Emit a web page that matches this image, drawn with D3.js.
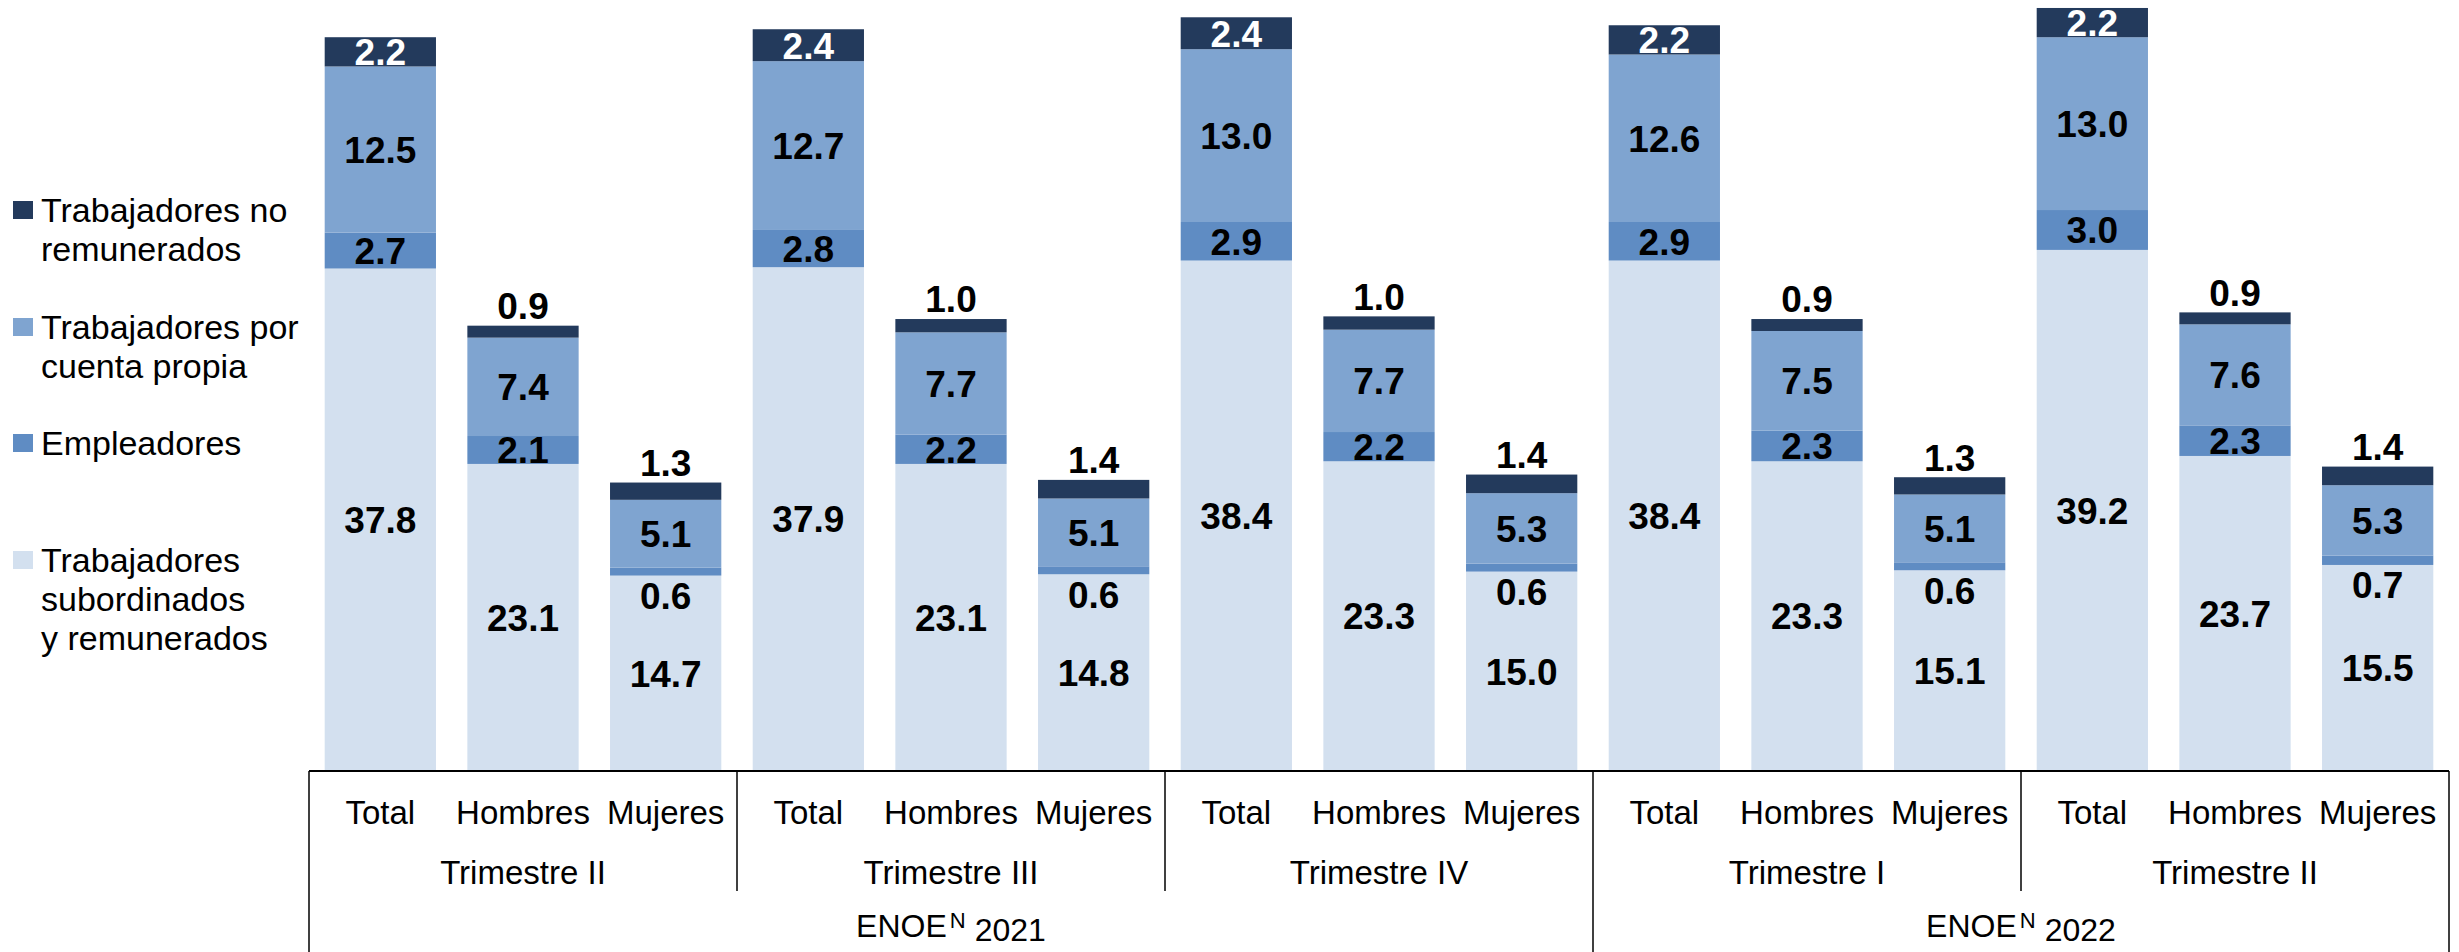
<html>
<head>
<meta charset="utf-8">
<script src="https://d3js.org/d3.v7.min.js"></script>
<style>
  body { margin: 0; background: #fff; }
  svg text { font-family: "Liberation Sans", Arial, sans-serif; }
</style>
</head>
<body>
<div id="chart"></div>
<script>
// categories
var trimestres = ["Trimestre II", "Trimestre III", "Trimestre IV", "Trimestre I", "Trimestre II"];
var anios = ["2021", "2022"];
var trimestresPorAnio = [3, 2];
var sexos = ["Total", "Hombres", "Mujeres"];

// series values (Total, Hombres, Mujeres for each trimestre)
var subordinados = [37.8, 23.1, 14.7, 37.9, 23.1, 14.8, 38.4, 23.3, 15.0, 38.4, 23.3, 15.1, 39.2, 23.7, 15.5];
var empleadores = [2.7, 2.1, 0.6, 2.8, 2.2, 0.6, 2.9, 2.2, 0.6, 2.9, 2.3, 0.6, 3.0, 2.3, 0.7];
var cuentaPropia = [12.5, 7.4, 5.1, 12.7, 7.7, 5.1, 13.0, 7.7, 5.3, 12.6, 7.5, 5.1, 13.0, 7.6, 5.3];
var noRemunerados = [2.2, 0.9, 1.3, 2.4, 1.0, 1.4, 2.4, 1.0, 1.4, 2.2, 0.9, 1.3, 2.2, 0.9, 1.4];

var seriesKeys = ["subordinados", "empleadores", "cuentaPropia", "noRemunerados"];
var leyenda = [
  { key: "noRemunerados", lineas: ["Trabajadores no", "remunerados"] },
  { key: "cuentaPropia", lineas: ["Trabajadores por", "cuenta propia"] },
  { key: "empleadores", lineas: ["Empleadores"] },
  { key: "subordinados", lineas: ["Trabajadores", "subordinados", "y remunerados"] }
];

var colores = {
  subordinados: "#D3E0EF",
  empleadores: "#5F8CC3",
  cuentaPropia: "#7FA4D0",
  noRemunerados: "#233A5C"
};

var data = [];
trimestres.forEach(function (t, i) {
  sexos.forEach(function (s, j) {
    var k = i * 3 + j;
    data.push({
      id: i + "-" + s,
      sexo: s,
      trimestre: i,
      subordinados: subordinados[k],
      empleadores: empleadores[k],
      cuentaPropia: cuentaPropia[k],
      noRemunerados: noRemunerados[k]
    });
  });
});

var W = 2459, H = 952;
var left = 309, right = 2449, base = 771;

var svg = d3.select("#chart").append("svg")
  .attr("width", W)
  .attr("height", H);

var x = d3.scaleBand()
  .domain(data.map(function (d) { return d.id; }))
  .range([left, right])
  .paddingInner(0.22)
  .paddingOuter(0.11);

var y = d3.scaleLinear()
  .domain([0, 58])
  .range([base, 0]);

var step = x.step();

var stack = d3.stack().keys(seriesKeys);
var stacked = stack(data);

// bars
var capas = svg.selectAll("g.capa")
  .data(stacked)
  .enter()
  .append("g")
  .attr("class", "capa")
  .attr("fill", function (d) { return colores[d.key]; });

capas.selectAll("rect")
  .data(function (d) { return d; })
  .enter()
  .append("rect")
  .attr("x", function (d) { return x(d.data.id); })
  .attr("y", function (d) { return y(d[1]); })
  .attr("width", x.bandwidth())
  .attr("height", function (d) { return y(d[0]) - y(d[1]); });

// value labels
capas.each(function (serie) {
  var key = serie.key;
  d3.select(this).selectAll("text")
    .data(serie)
    .enter()
    .append("text")
    .attr("x", function (d) { return x(d.data.id) + x.bandwidth() / 2; })
    .attr("y", function (d) {
      var mid = (y(d[0]) + y(d[1])) / 2;
      if (key == "noRemunerados" && d.data.sexo != "Total") return y(d[1]) - 20;
      if (key == "empleadores" && d.data.empleadores < 1) return y(d[0]) + 20;
      return mid;
    })
    .attr("dy", "0.36em")
    .attr("text-anchor", "middle")
    .style("font-size", "37px")
    .style("font-weight", "bold")
    .attr("fill", function (d) {
      return (key == "noRemunerados" && d.data.sexo == "Total") ? "#fff" : "#000";
    })
    .text(function (d) { return d3.format(".1f")(d.data[key]); });
});

// axis frame
var ejes = svg.append("g").attr("stroke", "#000").attr("fill", "none");
ejes.append("line")
  .attr("x1", left).attr("x2", right)
  .attr("y1", base).attr("y2", base)
  .attr("stroke-width", 2);

var limitesAnio = [0];
trimestresPorAnio.reduce(function (acc, n) { limitesAnio.push(acc + n); return acc + n; }, 0);

d3.range(trimestres.length + 1).forEach(function (i) {
  var xx = left + i * 3 * step;
  var largo = limitesAnio.indexOf(i) >= 0 ? H : 891;
  ejes.append("line")
    .attr("x1", xx).attr("x2", xx)
    .attr("y1", base).attr("y2", largo)
    .attr("stroke-width", 1.5);
});

// category labels
svg.append("g").selectAll("text")
  .data(data)
  .enter()
  .append("text")
  .attr("x", function (d) { return x(d.id) + x.bandwidth() / 2; })
  .attr("y", 812)
  .attr("dy", "0.36em")
  .attr("text-anchor", "middle")
  .style("font-size", "33px")
  .text(function (d) { return d.sexo; });

svg.append("g").selectAll("text")
  .data(trimestres)
  .enter()
  .append("text")
  .attr("x", function (d, i) { return left + (i + 0.5) * 3 * step; })
  .attr("y", 872)
  .attr("dy", "0.36em")
  .attr("text-anchor", "middle")
  .style("font-size", "33px")
  .text(function (d) { return d; });

var anioTxt = svg.append("g").selectAll("text")
  .data(anios)
  .enter()
  .append("text")
  .attr("x", function (d, i) {
    var a = limitesAnio[i], b = limitesAnio[i + 1];
    return left + (a + b) / 2 * 3 * step;
  })
  .attr("y", 925)
  .attr("dy", "0.36em")
  .attr("text-anchor", "middle")
  .style("font-size", "32px");
anioTxt.append("tspan").text("ENOE");
anioTxt.append("tspan").attr("dy", "-0.4em").attr("dx", "3").style("font-size", "22px").text("N");
anioTxt.append("tspan").attr("dy", "0.4em").attr("dx", "9").text(function (d) { return d; });

// legend
var posLeyenda = [210, 327, 443, 560];
var items = svg.append("g").selectAll("g")
  .data(leyenda)
  .enter()
  .append("g")
  .attr("transform", function (d, i) { return "translate(0," + posLeyenda[i] + ")"; });

items.append("rect")
  .attr("x", 13).attr("y", -9)
  .attr("width", 20).attr("height", 18)
  .attr("fill", function (d) { return colores[d.key]; });

items.append("text")
  .attr("x", 41)
  .style("font-size", "34px")
  .selectAll("tspan")
  .data(function (d) { return d.lineas; })
  .enter()
  .append("tspan")
  .attr("x", 41)
  .attr("y", function (d, i) { return i * 39; })
  .attr("dy", "0.36em")
  .text(function (d) { return d; });
</script>
</body>
</html>
